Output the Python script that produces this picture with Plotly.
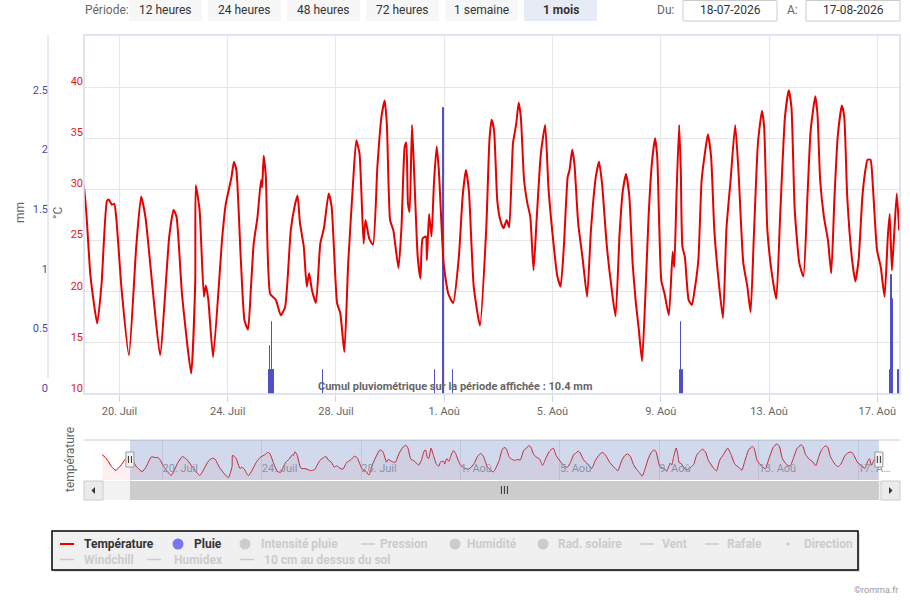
import pandas as pd
import plotly.graph_objects as go

W, H = 910, 600
T0 = pd.Timestamp("2026-07-20")

# temperature: days after 20/07 00:00, and °C
temp_days = [
    -2.43, -2.25, -2.05, -1.88, -1.70, -1.50,
    -1.31, -1.07, -0.82, -0.66, -0.46, -0.39, -0.28, -0.19, -0.12, 0.08,
    0.35, 0.62, 0.80, 0.96, 1.23, 1.50, 1.84, 2.00, 2.11, 2.31,
    2.65, 2.80, 2.82, 2.96, 3.12, 3.19, 3.28, 3.46, 3.80, 3.93,
    4.14, 4.23, 4.32, 4.48, 4.62, 4.75, 4.86, 4.96, 5.10, 5.23,
    5.27, 5.33, 5.41, 5.57, 5.78, 5.96, 6.12, 6.33, 6.47, 6.58,
    6.67, 6.81, 6.92, 7.01, 7.11, 7.26, 7.42, 7.56, 7.73, 7.84,
    8.04, 8.16, 8.31, 8.45, 8.63, 8.75, 8.87, 9.02, 9.09, 9.23,
    9.37, 9.53, 9.68, 9.80, 9.88, 10.00, 10.12, 10.31, 10.42, 10.54,
    10.60, 10.66, 10.72, 10.81, 10.90, 11.02, 11.12, 11.20, 11.32, 11.36,
    11.44, 11.53, 11.62, 11.72, 11.80, 11.98, 12.15, 12.33, 12.54, 12.68,
    12.80, 12.91, 13.09, 13.32, 13.55, 13.67, 13.75, 13.84, 13.96, 14.07,
    14.19, 14.31, 14.40, 14.54, 14.66, 14.75, 14.83, 14.95, 15.06, 15.18,
    15.30, 15.42, 15.57, 15.73, 15.85, 16.00, 16.18, 16.30, 16.42, 16.56,
    16.63, 16.73, 16.81, 16.95, 17.12, 17.28, 17.42, 17.60, 17.72, 17.83,
    18.01, 18.19, 18.33, 18.48, 18.60, 18.72, 18.84, 18.96, 19.08, 19.19,
    19.31, 19.43, 19.55, 19.67, 19.79, 19.87, 20.02, 20.14, 20.30, 20.44,
    20.50, 20.58, 20.68, 20.74, 20.80, 20.89, 21.03, 21.15, 21.27, 21.39,
    21.51, 21.65, 21.74, 21.86, 21.98, 22.16, 22.30, 22.43, 22.58, 22.75,
    22.87, 23.05, 23.20, 23.32, 23.44, 23.59, 23.74, 23.82, 23.94, 24.12,
    24.27, 24.41, 24.59, 24.73, 24.83, 24.95, 25.12, 25.27, 25.42, 25.54,
    25.71, 25.79, 25.89, 26.03, 26.18, 26.30, 26.42, 26.54, 26.69, 26.78,
    26.89, 27.07, 27.19, 27.31, 27.45, 27.54, 27.64, 27.75, 27.84, 27.99,
    28.13, 28.27, 28.39, 28.46, 28.54, 28.62, 28.72, 28.81,
]
temp_c = [
    31.0, 27.5, 21.0, 18.0, 21.5, 27.0,
    30.4, 21.5, 16.9, 20.8, 28.9, 29.0, 28.5, 28.6, 27.3, 20.2,
    13.8, 24.4, 29.3, 27.3, 20.2, 13.8, 25.4, 28.0, 27.3, 19.8,
    12.0, 21.0, 30.4, 28.0, 19.5, 20.6, 19.3, 13.6, 25.4, 28.6,
    31.2, 32.7, 31.9, 23.4, 17.2, 16.3, 20.5, 24.7, 27.3, 30.9,
    30.2, 33.3, 31.2, 19.8, 19.2, 17.7, 18.5, 26.0, 28.3, 29.4,
    26.7, 24.4, 20.5, 21.8, 20.2, 18.9, 24.7, 26.3, 29.6, 28.3,
    18.9, 17.9, 14.1, 22.7, 30.6, 34.8, 33.5, 24.7, 27.0, 25.2,
    24.6, 32.2, 37.1, 38.7, 36.4, 27.0, 26.0, 22.3, 26.3, 34.2,
    34.6, 28.6, 27.8, 36.3, 30.9, 23.4, 21.3, 25.2, 25.4, 23.1,
    27.6, 25.4, 30.6, 34.2, 31.9, 22.7, 19.8, 18.9, 23.4, 29.3,
    31.9, 29.9, 20.5, 16.7, 26.0, 34.8, 36.8, 35.8, 28.9, 27.0,
    26.2, 27.0, 26.3, 34.5, 36.4, 38.5, 37.1, 30.9, 28.8, 27.3,
    22.1, 27.3, 33.5, 36.3, 30.2, 25.7, 21.5, 20.5, 24.4, 31.2,
    31.9, 33.9, 32.5, 26.7, 23.1, 19.5, 26.0, 31.2, 32.7, 30.6,
    24.4, 20.2, 17.6, 25.7, 29.9, 31.5, 29.3, 22.8, 18.9, 16.3,
    13.2, 19.5, 27.3, 32.5, 35.0, 33.2, 21.1, 19.8, 17.7, 23.9,
    22.4, 29.3, 36.3, 31.9, 24.4, 23.4, 19.2, 18.7, 20.5, 23.1,
    30.9, 33.9, 35.4, 33.2, 26.0, 20.5, 17.4, 26.3, 30.9, 36.3,
    31.9, 22.8, 20.5, 18.0, 25.4, 34.5, 37.7, 36.1, 26.0, 21.5,
    19.3, 27.3, 37.1, 39.7, 38.0, 28.0, 22.8, 21.5, 29.3, 35.8,
    39.1, 37.4, 30.9, 27.3, 25.0, 21.8, 29.3, 35.2, 38.2, 37.1,
    29.3, 23.1, 21.0, 23.1, 29.3, 31.5, 32.9, 32.9, 30.2, 24.1,
    22.4, 19.5, 25.4, 27.6, 22.1, 25.4, 29.6, 26.0,
]

# rain (mm per record)
rain_days = [5.52, 5.54, 5.57, 5.60, 5.64, 5.67, 5.69, 5.71,
             7.52, 11.65, 11.97, 11.99, 12.33,
             20.72, 20.75, 20.78, 20.82,
             28.49, 28.51, 28.53, 28.55, 28.57, 28.59, 28.78]
rain_mm = [0.2, 0.2, 0.4, 0.2, 0.6, 0.2, 0.2, 0.2,
           0.2, 0.2, 2.4, 0.6, 0.2,
           0.2, 0.6, 0.2, 0.2,
           0.2, 0.2, 1.0, 0.8, 0.8, 0.2, 0.2]

tick_days = [0, 4, 8, 12, 16, 20, 24, 28]
tick_labels = ["20. Juil", "24. Juil", "28. Juil", "1. Aoû", "5. Aoû",
               "9. Aoû", "13. Aoû", "17. Aoû"]
nav_tick_labels = tick_labels[:-1] + ["17. A…"]
temp_ticks = [10, 15, 20, 25, 30, 35, 40]
mm_ticks = [0, 0.5, 1, 1.5, 2, 2.5]
mm_tick_labels = ["0", "0.5", "1", "1.5", "2", "2.5"]
periods = ["12 heures", "24 heures", "48 heures", "72 heures", "1 semaine", "1 mois"]


def day(d):
    return T0 + pd.to_timedelta(d, unit="D")


def px(x):
    return x / W


def py(y):
    return 1 - y / H


temp_t = day(temp_days)
view = [day(-1.31), day(28.84)]
nav_range = [day(-3.16), day(29.69)]

FONT = "Roboto, Arial, sans-serif"
BLUE = "#5050c4"
RED = "#e60000"

fig = go.Figure()
fig.add_trace(go.Bar(x=day(rain_days), y=rain_mm, width=20 * 60 * 1000,
                     marker=dict(color=BLUE, line=dict(color=BLUE, width=1)),
                     xaxis="x", yaxis="y", hoverinfo="skip"))
fig.add_trace(go.Scatter(x=temp_t, y=temp_c, mode="lines",
                         line=dict(color=RED, width=2, shape="spline", smoothing=0.5),
                         xaxis="x", yaxis="y2", hoverinfo="skip"))
fig.add_trace(go.Scatter(x=temp_t, y=temp_c, mode="lines",
                         line=dict(color=RED, width=1, shape="spline", smoothing=0.5),
                         fill="tozeroy", fillcolor="rgba(230,0,0,0.06)",
                         xaxis="x2", yaxis="y3", hoverinfo="skip"))

fig.update_layout(
    width=W, height=H, margin=dict(l=0, r=0, t=0, b=0, autoexpand=False),
    paper_bgcolor="white", plot_bgcolor="white",
    showlegend=False, bargap=0, hovermode=False,
    font=dict(family=FONT, color="#666666", size=11),
    xaxis=dict(domain=[px(84), px(900)], anchor="y", type="date",
               range=view, tickvals=day(tick_days), ticktext=tick_labels,
               showgrid=True, gridcolor="#e6e6e6", zeroline=False,
               ticks="outside", ticklen=7, tickcolor="#ccd6eb",
               tickfont=dict(size=11, color="#666666"), showline=False,
               automargin=False),
    yaxis=dict(domain=[py(394), py(36)], anchor="free", position=px(48),
               side="left", range=[0, 3], tickvals=mm_ticks,
               ticktext=mm_tick_labels, showgrid=False, zeroline=False,
               showline=False, ticks="", ticklabelshift=-6, automargin=False,
               tickfont=dict(size=11, color="#4a4aa8")),
    yaxis2=dict(overlaying="y", anchor="x", side="left", range=[10, 45],
                tickvals=temp_ticks, showgrid=True, gridcolor="#e6e6e6",
                zeroline=False, showline=False, ticks="", ticklabelshift=-6,
                automargin=False, tickfont=dict(size=11, color="#dd2020")),
    xaxis2=dict(domain=[px(84), px(900)], anchor="y3", type="date",
                range=nav_range, tickvals=day(tick_days),
                ticktext=nav_tick_labels, ticklabelposition="inside right",
                showgrid=True, gridcolor="#e6e6e6", zeroline=False,
                ticks="", showline=False, automargin=False,
                tickfont=dict(size=11, color="#999999")),
    yaxis3=dict(domain=[py(480), py(440)], anchor="x2", range=[10, 43],
                visible=False, automargin=False),
)

shapes = []
annotations = []


def rect(x0, y0, x1, y1, fill, line=None, lw=1, **kw):
    shapes.append(dict(type="rect", xref=kw.pop("xref", "paper"), yref="paper",
                       x0=x0, x1=x1, y0=py(y0), y1=py(y1), fillcolor=fill,
                       line=dict(color=line or fill, width=lw if line else 0),
                       layer=kw.pop("layer", "above"), **kw))


def text(x, y, s, size=12, color="#333333", bold=False, xanchor="left", angle=0):
    annotations.append(dict(xref="paper", yref="paper", x=px(x), y=py(y),
                            text=f"<b>{s}</b>" if bold else s, showarrow=False,
                            xanchor=xanchor, yanchor="middle", textangle=angle,
                            font=dict(family=FONT, size=size, color=color)))


# plot frame and mm axis line
rect(px(84), 35, px(900), 394, "rgba(0,0,0,0)", line="#d5dcea", lw=1.5)
shapes.append(dict(type="line", xref="paper", yref="paper", x0=px(48), x1=px(48),
                   y0=py(35), y1=py(378), line=dict(color="#ccd6eb", width=1)))

# axis titles
text(20, 213, "mm", size=12, color="#666666", xanchor="center", angle=-90)
text(58, 213, "°C", size=12, color="#666666", xanchor="center", angle=-90)
text(70, 460, "température", size=12, color="#666666", xanchor="center", angle=-90)

# rain total
text(455, 386, f"Cumul pluviométrique sur la période affichée : {sum(rain_mm):.1f} mm",
     size=11, color="#666666", bold=True, xanchor="center")

# navigator outline, mask and handles
shapes.append(dict(type="line", xref="paper", yref="paper", x0=px(84), x1=px(900),
                   y0=py(440), y1=py(440), line=dict(color="#cccccc", width=1)))
rect(view[0], 440, view[1], 480, "rgba(102,133,194,0.3)", xref="x2")
for v in view:
    shapes.append(dict(type="rect", xref="x2", yref="paper", xsizemode="pixel",
                       xanchor=v, x0=-4, x1=4, y0=py(467), y1=py(452),
                       fillcolor="#f2f2f2", line=dict(color="#999999", width=1)))
    for dx in (-1.5, 1.5):
        shapes.append(dict(type="line", xref="x2", yref="paper", xsizemode="pixel",
                           xanchor=v, x0=dx, x1=dx, y0=py(463), y1=py(456),
                           line=dict(color="#333333", width=1)))

# scrollbar
rect(px(84), 481, px(900), 500, "#f2f2f2")
rect(view[0], 481, view[1], 500, "#cccccc", xref="x2")
rect(px(84), 481, px(103), 500, "#ebebeb", line="#cccccc")
rect(px(881), 481, px(900), 500, "#ebebeb", line="#cccccc")
shapes.append(dict(type="path", xref="paper", yref="paper", fillcolor="#333333",
                   line=dict(width=0),
                   path=f"M{px(95)},{py(487)} L{px(95)},{py(494)} L{px(91.5)},{py(490.5)} Z"))
shapes.append(dict(type="path", xref="paper", yref="paper", fillcolor="#333333",
                   line=dict(width=0),
                   path=f"M{px(889)},{py(487)} L{px(889)},{py(494)} L{px(892.5)},{py(490.5)} Z"))
mid = view[0] + (view[1] - view[0]) / 2
for dx in (-3, 0, 3):
    shapes.append(dict(type="line", xref="x2", yref="paper", xsizemode="pixel",
                       xanchor=mid, x0=dx, x1=dx, y0=py(494), y1=py(486),
                       line=dict(color="#333333", width=1)))

# range selector and date inputs
text(83, 10.5, "Période:", size=12, color="#666666")
for i, p in enumerate(periods):
    x0 = 129 + 79 * i
    sel = p == "1 mois"
    rect(px(x0), 0, px(x0 + 73), 21, "#e6ebf5" if sel else "#f7f7f7")
    text(x0 + 36.5, 10.5, p, size=12, color="#333333", bold=sel, xanchor="center")
text(676, 10.5, "Du:", size=12, color="#666666", xanchor="right")
rect(px(683), 0.5, px(777), 21, "white", line="#cccccc")
text(730, 10.5, "18-07-2026", size=12, color="#333333", xanchor="center")
text(800, 10.5, "A:", size=12, color="#666666", xanchor="right")
rect(px(806), 0.5, px(900), 21, "white", line="#cccccc")
text(853, 10.5, "17-08-2026", size=12, color="#333333", xanchor="center")

# legend box
rect(px(54), 533, px(860), 572, "rgba(0,0,0,0.12)")
rect(px(52), 531, px(858), 570, "#f0f0f0", line="#000000", lw=1.5)
legend_items = [
    ("Température", "line", 60, 82, 544, RED, True),
    ("Pluie", "circle", 178, 192, 544, "#7878ee", True),
    ("Intensité pluie", "circle", 245, 259, 544, None, False),
    ("Pression", "line", 361, 378, 544, None, False),
    ("Humidité", "circle", 455, 465, 544, None, False),
    ("Rad. solaire", "circle", 543, 556, 544, None, False),
    ("Vent", "line", 640, 660, 544, None, False),
    ("Rafale", "line", 705, 725, 544, None, False),
    ("Direction", "dot", 788, 802, 544, None, False),
    ("Windchill", "line", 60, 82, 559.5, None, False),
    ("Humidex", "line", 147, 172, 559.5, None, False),
    ("10 cm au dessus du sol", "line", 240, 262, 559.5, None, False),
]
for label, sym, sx, tx, y, col, on in legend_items:
    c = col if on else "#cccccc"
    if sym == "line":
        shapes.append(dict(type="line", xref="paper", yref="paper", x0=px(sx),
                           x1=px(sx + 14), y0=py(y), y1=py(y),
                           line=dict(color=c, width=2 if on else 1.5)))
    else:
        r = 5.5 if sym == "circle" else 1.8
        shapes.append(dict(type="circle", xref="paper", yref="paper",
                           x0=px(sx - r), x1=px(sx + r), y0=py(y + r), y1=py(y - r),
                           fillcolor=c, line=dict(width=0)))
    text(tx, y, label, size=12, color="#333333" if on else "#cccccc", bold=True)

text(900, 590, "©romma.fr", size=9, color="#999999", xanchor="right")

fig.update_layout(shapes=shapes, annotations=annotations)
# the page body keeps its default 8px margin unless it is removed here
fig.write_html("out.html", config={"displayModeBar": False},
               post_script="document.body.style.margin='0';")
